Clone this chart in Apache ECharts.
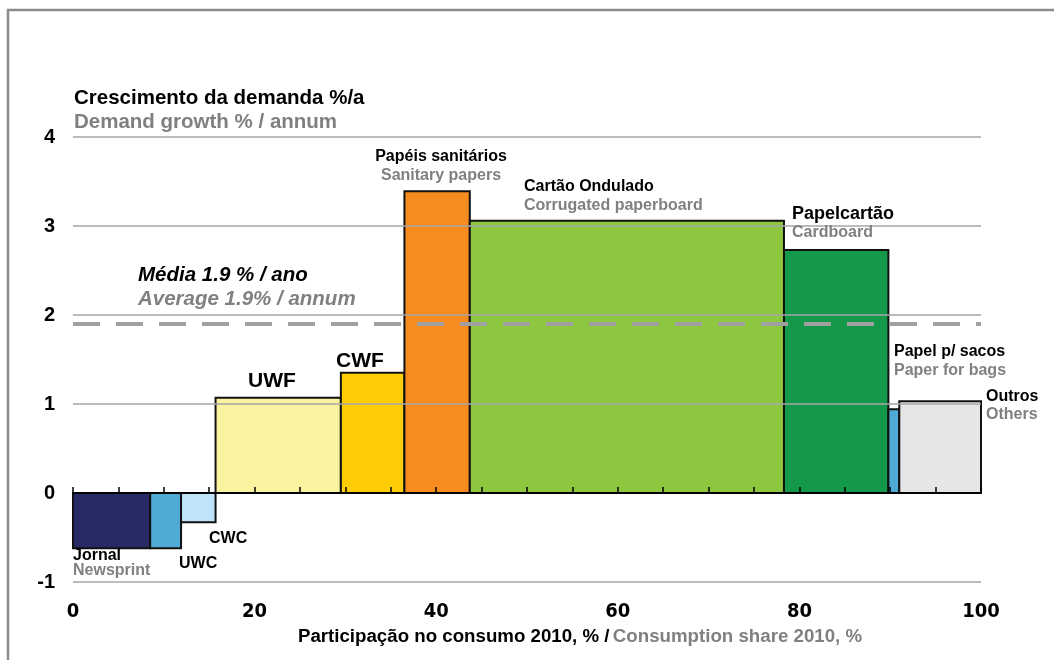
<!DOCTYPE html>
<html>
<head>
<meta charset="utf-8">
<script src="https://cdn.jsdelivr.net/npm/echarts@6/dist/echarts.min.js"></script>
<style>
  html, body { margin: 0; padding: 0; background: #fff; }
  #chart { width: 1054px; height: 660px; }
</style>
</head>
<body>
<div id="chart"></div>
<script>
// categorias (pt / en)
const namesPt = ['Jornal', 'UWC', 'CWC', 'UWF', 'CWF', 'Papéis sanitários', 'Cartão Ondulado', 'Papelcartão', 'Papel p/ sacos', 'Outros'];
const namesEn = ['Newsprint', '', '', '', '', 'Sanitary papers', 'Corrugated paperboard', 'Cardboard', 'Paper for bags', 'Others'];
// participação no consumo 2010, %
const shares = [8.5, 3.4, 3.8, 13.8, 7.0, 7.2, 34.6, 11.5, 1.2, 9.0];
// crescimento da demanda %/a
const growth = [-0.62, -0.62, -0.33, 1.07, 1.35, 3.39, 3.06, 2.73, 0.94, 1.03];
const average = 1.9;
const xTicks = [0, 20, 40, 60, 80, 100];
const yTicks = [-1, 0, 1, 2, 3, 4];

const colors = ['#262b66', '#4fabd6', '#bfe3f8', '#f9f29f', '#ffcc05', '#f68b1f', '#8dc63f', '#14994a', '#4fabd6', '#e6e6e6'];
const gray = '#808080';
const font = 'Liberation Sans, Arial, sans-serif';
const narrow = 'DejaVu Sans Condensed, Liberation Sans Narrow, sans-serif';

// blocos: inicio, fim, valor
let acc = 0;
const blocks = shares.map((w, i) => {
  const start = acc;
  acc += w;
  return [start, acc, growth[i]];
});

// posicao dos rotulos (pixel) - label placement only
const labelPos = [
  { x: 73, y: 556, dy: 15, align: 'left', size: 16 },
  { x: 179, y: 564, align: 'left', size: 16 },
  { x: 209, y: 539, align: 'left', size: 16 },
  { x: 272, y: 381, align: 'center', size: 21 },
  { x: 360, y: 361, align: 'center', size: 21 },
  { x: 441, y: 157, dy: 19, align: 'center', size: 16 },
  { x: 524, y: 187, dy: 19, align: 'left', size: 16 },
  { x: 792, y: 214, dy: 19, align: 'left', size: 18 },
  { x: 894, y: 352, dy: 19, align: 'left', size: 16 },
  { x: 986, y: 397, dy: 18, align: 'left', size: 16 }
];

function txt(text, x, y, size, color, align, italic) {
  return {
    type: 'text',
    z: 20,
    style: {
      text: text, x: x, y: y,
      font: (italic ? 'italic ' : '') + 'bold ' + size + 'px ' + font,
      fill: color,
      textAlign: align || 'left',
      textVerticalAlign: 'middle'
    }
  };
}

const graphics = [
  // moldura
  { type: 'line', z: 20, shape: { x1: 7, y1: 10, x2: 1054, y2: 10 }, style: { stroke: '#8c8c8c', lineWidth: 2.5 } },
  { type: 'line', z: 20, shape: { x1: 8, y1: 9, x2: 8, y2: 660 }, style: { stroke: '#8c8c8c', lineWidth: 2.5 } },
  txt('Crescimento da demanda %/a', 74, 98, 20.5, '#000'),
  txt('Demand growth % / annum', 74, 122, 20.5, gray),
  txt('Média ' + average + ' % / ano', 138, 275, 20.5, '#000', 'left', true),
  txt('Average ' + average + '% / annum', 138, 299, 20.5, gray, 'left', true)
];
namesPt.forEach((n, i) => {
  const p = labelPos[i];
  graphics.push(txt(n, p.x, p.y, p.size, '#000', p.align));
  if (namesEn[i]) graphics.push(txt(namesEn[i], p.x, p.y + p.dy, 16, gray, p.align));
});

const chart = echarts.init(document.getElementById('chart'));
chart.setOption({
  animation: false,
  grid: { left: 73, right: 73, top: 137, bottom: 78 },
  xAxis: [
    {
      type: 'value', min: 0, max: 100, interval: 20,
      axisLine: { show: false, onZero: false },
      axisTick: { show: false },
      splitLine: { show: false },
      axisLabel: {
        margin: 20,
        fontFamily: narrow,
        fontWeight: 'bold', fontSize: 20, color: '#000',
        formatter: v => xTicks.includes(v) ? String(v) : ''
      },
      name: '{a|Participação no consumo 2010, % /} {b|Consumption share 2010, %}',
      nameLocation: 'middle',
      nameGap: 45,
      nameTextStyle: {
        padding: [0, 0, 0, 106],
        rich: {
          a: { fontFamily: font, fontWeight: 'bold', fontSize: 18.7, color: '#000' },
          b: { fontFamily: font, fontWeight: 'bold', fontSize: 18.7, color: gray }
        }
      }
    },
    {
      type: 'value', min: 0, max: 100, interval: 5,
      position: 'bottom',
      z: 6,
      axisLine: { onZero: true, lineStyle: { color: '#000', width: 2 } },
      axisTick: { inside: true, length: 6, lineStyle: { color: '#000', width: 1.5 } },
      axisLabel: { show: false },
      splitLine: { show: false }
    }
  ],
  yAxis: {
    type: 'value', min: -1, max: 4, interval: 1,
    z: 5,
    axisLine: { show: false },
    axisTick: { show: false },
    axisLabel: {
      margin: 18,
      fontFamily: font, fontWeight: 'bold', fontSize: 20, color: '#000',
      formatter: v => yTicks.includes(v) ? String(v) : ''
    },
    splitLine: { lineStyle: { color: '#a6a6a6', width: 1.5 } }
  },
  series: [
    {
      type: 'custom',
      xAxisIndex: 0,
      z: 2,
      data: blocks,
      renderItem: (params, api) => {
        const p0 = api.coord([api.value(0), 0]);
        const p1 = api.coord([api.value(1), api.value(2)]);
        return {
          type: 'rect',
          shape: {
            x: p0[0], y: Math.min(p0[1], p1[1]),
            width: p1[0] - p0[0], height: Math.abs(p1[1] - p0[1])
          },
          style: { fill: colors[params.dataIndex], stroke: '#111', lineWidth: 2 }
        };
      }
    },
    {
      type: 'line',
      xAxisIndex: 0,
      z: 7,
      symbol: 'none',
      silent: true,
      data: [[0, average], [100, average]],
      lineStyle: { color: '#a0a0a0', width: 4, type: [27, 16] }
    }
  ],
  graphic: graphics
});
</script>
</body>
</html>
